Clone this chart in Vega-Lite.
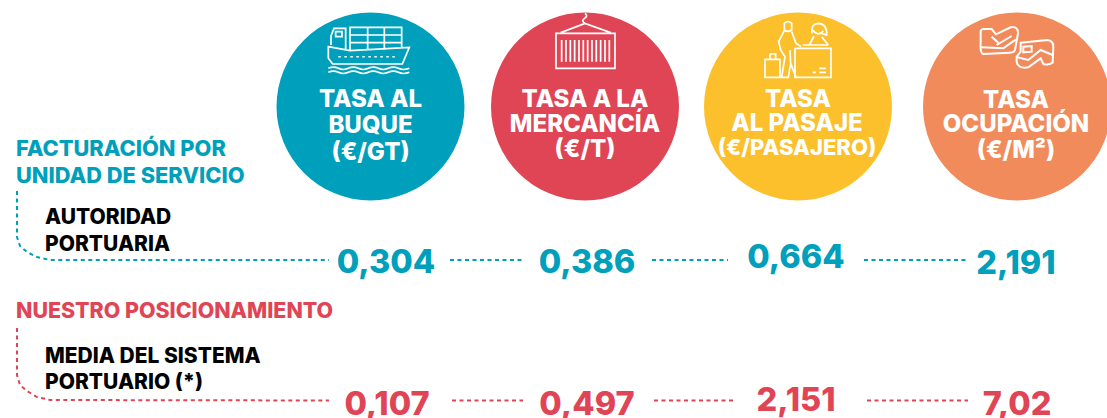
{
"$schema":"https://vega.github.io/schema/vega-lite/v6.json",
"width":1107,"height":418,"padding":0,
"autosize":{"type":"none"},
"background":"white",
"view":{"stroke":null},
"config":{"font":"Inter","text":{"font":"Inter","fontWeight":800}},
"datasets":{
"circulos":[
{"tasa":"Tasa al buque","x":370.5,"y":106.5},
{"tasa":"Tasa a la mercancía","x":585,"y":106.5},
{"tasa":"Tasa al pasaje","x":798,"y":106.5},
{"tasa":"Tasa ocupación","x":1017,"y":106.5}],
"titulos":[
{"t":"TASA AL","x":370.5,"y":107},{"t":"BUQUE","x":370.5,"y":133},
{"t":"TASA A LA","x":585,"y":107},{"t":"MERCANCÍA","x":585,"y":132},
{"t":"TASA","x":798,"y":107},{"t":"AL PASAJE","x":797,"y":131},
{"t":"TASA","x":1016,"y":108},{"t":"OCUPACIÓN","x":1016,"y":132}],
"unidades":[
{"t":"(€/GT)","x":370.5,"y":160},{"t":"(€/T)","x":585,"y":157},{"t":"(€/M²)","x":1016,"y":158}],
"unidadPasaje":[{"t":"(€/PASAJERO)","x":797,"y":155}],
"encabezados":[
{"t":"FACTURACIÓN POR","x":16,"y":156,"g":"Autoridad"},{"t":"UNIDAD DE SERVICIO","x":16,"y":183,"g":"Autoridad"},
{"t":"NUESTRO POSICIONAMIENTO","x":16,"y":318,"g":"Sistema"}],
"etiquetas":[
{"t":"AUTORIDAD","x":45,"y":224},{"t":"PORTUARIA","x":45,"y":251},
{"t":"MEDIA DEL SISTEMA","x":45,"y":363},{"t":"PORTUARIO (*)","x":45,"y":389}],
"valores":[
{"t":"0,304","x":386,"y":273,"g":"Autoridad"},{"t":"0,386","x":587,"y":273,"g":"Autoridad"},{"t":"0,664","x":796,"y":268,"g":"Autoridad"},{"t":"2,191","x":1016,"y":274,"g":"Autoridad"},
{"t":"0,107","x":387,"y":415,"g":"Sistema"},{"t":"0,497","x":587,"y":415,"g":"Sistema"},{"t":"2,151","x":796,"y":411,"g":"Sistema"},{"t":"7,02","x":1017,"y":415,"g":"Sistema"}],
"guias":[
{"g":"Autoridad","tramo":"a","n":1,"x":17,"y":191},{"g":"Autoridad","tramo":"a","n":2,"x":17,"y":237},{"g":"Autoridad","tramo":"a","n":3,"x":20,"y":246},{"g":"Autoridad","tramo":"a","n":4,"x":27,"y":252},{"g":"Autoridad","tramo":"a","n":5,"x":37,"y":257},{"g":"Autoridad","tramo":"a","n":6,"x":50,"y":260},{"g":"Autoridad","tramo":"a","n":7,"x":329,"y":260},
{"g":"Autoridad","tramo":"b","n":1,"x":450,"y":260},{"g":"Autoridad","tramo":"b","n":2,"x":525,"y":260},
{"g":"Autoridad","tramo":"c","n":1,"x":652,"y":260},{"g":"Autoridad","tramo":"c","n":2,"x":728,"y":260},
{"g":"Autoridad","tramo":"d","n":1,"x":864,"y":260},{"g":"Autoridad","tramo":"d","n":2,"x":966,"y":260},
{"g":"Sistema","tramo":"a","n":1,"x":17,"y":328},{"g":"Sistema","tramo":"a","n":2,"x":17,"y":375},{"g":"Sistema","tramo":"a","n":3,"x":20,"y":385},{"g":"Sistema","tramo":"a","n":4,"x":27,"y":391},{"g":"Sistema","tramo":"a","n":5,"x":37,"y":397},{"g":"Sistema","tramo":"a","n":6,"x":50,"y":400},{"g":"Sistema","tramo":"a","n":7,"x":329,"y":400.5},
{"g":"Sistema","tramo":"b","n":1,"x":452,"y":400.5},{"g":"Sistema","tramo":"b","n":2,"x":523,"y":400.5},
{"g":"Sistema","tramo":"c","n":1,"x":654,"y":400.5},{"g":"Sistema","tramo":"c","n":2,"x":733,"y":400.5},
{"g":"Sistema","tramo":"d","n":1,"x":867,"y":400.5},{"g":"Sistema","tramo":"d","n":2,"x":968,"y":400.5}],
"iconos1":[{"x":270,"y":0}],
"iconos2":[{"x":690,"y":0}]
},
"encoding":{
"x":{"field":"x","type":"quantitative","scale":{"domain":[0,1107]},"axis":null},
"y":{"field":"y","type":"quantitative","scale":{"domain":[418,0]},"axis":null}
},
"layer":[
{"data":{"name":"circulos"},
 "mark":{"type":"point","shape":"circle","filled":true,"opacity":1,"size":35344},
 "encoding":{"color":{"field":"tasa","type":"nominal","legend":null,"scale":{"domain":["Tasa al buque","Tasa a la mercancía","Tasa al pasaje","Tasa ocupación"],"range":["#00A0BC","#E04556","#FCC02C","#F28B5B"]}}}},
{"data":{"name":"iconos1"},
 "mark":{"type":"point","filled":false,"opacity":1,"size":0.4444,"stroke":"white","strokeWidth":1.7,
 "shape":"M175 140L240 152L418 142L397 192L188 192L175 175ZM183 135L183 108L192 85L227 85L227 150M197 95L216 95L216 110L197 110ZM240 150L240 82L395 82L395 146M240 105L395 105M240 128L395 128M293 82L293 150M343 82L343 150M175 205Q190 198 205 205T235 205T265 205T295 205T325 205T355 205T385 205T418 205M175 217Q190 210 205 217T235 217T265 217T295 217T325 217T355 217T385 217T418 217M858 100L1035 100L1035 205L858 205ZM872 98L945 70L1022 98M945 70Q932 62 945 54Q955 48 945 40M875 120L875 185M888 120L888 185M901 120L901 185M914 120L914 185M927 120L927 185M940 120L940 185M953 120L953 185M966 120L966 185M979 120L979 185M992 120L992 185M1005 120L1005 185M1018 120L1018 185"}},
{"data":{"name":"iconos1"},
 "mark":{"type":"point","filled":false,"opacity":1,"size":0.4444,"stroke":"white","strokeWidth":1.5,"strokeDash":[2.5,3.5],
 "shape":"M205 170L385 170"}},
{"data":{"name":"iconos2"},
 "mark":{"type":"point","filled":false,"opacity":1,"size":0.4444,"stroke":"white","strokeWidth":1.7,
 "shape":"M315 145L423 145L423 232L315 232ZM368 217L378 217M388 217L408 217M388 205L408 205M225 178L270 178L270 232L225 232ZM240 178L240 162L257 162L257 178M283 70Q294 60 305 70L305 90Q294 98 283 90ZM283 92L266 125L272 150L285 170L275 232L295 232L302 190L318 232M305 95L318 130L333 140M302 190L300 150M366 100Q362 72 385 70Q412 72 410 105L395 100M368 90Q385 112 400 92M358 135L372 108M395 110L415 135M338 135L415 135"}},
{"data":{"name":"iconos2"},
 "mark":{"type":"point","filled":false,"opacity":1,"size":0.4444,"stroke":"white","strokeWidth":2,
 "shape":"M872 95Q872 88 880 87L905 87L918 103L962 82Q985 78 984 100L975 150Q972 158 960 158L880 162Q870 160 872 130ZM875 142L940 145L978 118M905 110L925 128M920 135L965 108M992 128L1072 120Q1090 122 1090 140L1088 188Q1075 197 1060 192L1052 175L1015 202Q985 208 980 185L980 170L992 155ZM982 172L1015 180L1052 150L1088 165M1000 140L1025 138L1025 155L1000 157Z"}},
{"data":{"name":"titulos"},
 "mark":{"type":"text","color":"white","fontSize":24,"align":"center","baseline":"alphabetic"},
 "encoding":{"text":{"field":"t"}}},
{"data":{"name":"unidades"},
 "mark":{"type":"text","color":"white","fontSize":24,"align":"center","baseline":"alphabetic"},
 "encoding":{"text":{"field":"t"}}},
{"data":{"name":"unidadPasaje"},
 "mark":{"type":"text","color":"white","fontSize":22,"align":"center","baseline":"alphabetic"},
 "encoding":{"text":{"field":"t"}}},
{"data":{"name":"encabezados"},"transform":[{"filter":"datum.g==='Autoridad'"}],
 "mark":{"type":"text","color":"#00A0BC","fontSize":21.8,"align":"left","baseline":"alphabetic"},
 "encoding":{"text":{"field":"t"}}},
{"data":{"name":"encabezados"},"transform":[{"filter":"datum.g==='Sistema'"}],
 "mark":{"type":"text","color":"#E04556","fontSize":21.4,"align":"left","baseline":"alphabetic"},
 "encoding":{"text":{"field":"t"}}},
{"data":{"name":"etiquetas"},
 "mark":{"type":"text","color":"#000000","fontSize":21,"align":"left","baseline":"alphabetic"},
 "encoding":{"text":{"field":"t"}}},
{"data":{"name":"valores"},"transform":[{"filter":"datum.g==='Autoridad'"}],
 "mark":{"type":"text","color":"#00A0BC","fontSize":32.5,"align":"center","baseline":"alphabetic"},
 "encoding":{"text":{"field":"t"}}},
{"data":{"name":"valores"},"transform":[{"filter":"datum.g==='Sistema'"}],
 "mark":{"type":"text","color":"#E04556","fontSize":32.5,"align":"center","baseline":"alphabetic"},
 "encoding":{"text":{"field":"t"}}},
{"data":{"name":"guias"},"transform":[{"filter":"datum.g==='Autoridad'"}],
 "mark":{"type":"line","color":"#00A0BC","strokeWidth":2,"strokeDash":[4,3.5]},
 "encoding":{"detail":{"field":"tramo"},"order":{"field":"n","type":"quantitative"}}},
{"data":{"name":"guias"},"transform":[{"filter":"datum.g==='Sistema'"}],
 "mark":{"type":"line","color":"#E04556","strokeWidth":2,"strokeDash":[4,3.5]},
 "encoding":{"detail":{"field":"tramo"},"order":{"field":"n","type":"quantitative"}}}
]
}
